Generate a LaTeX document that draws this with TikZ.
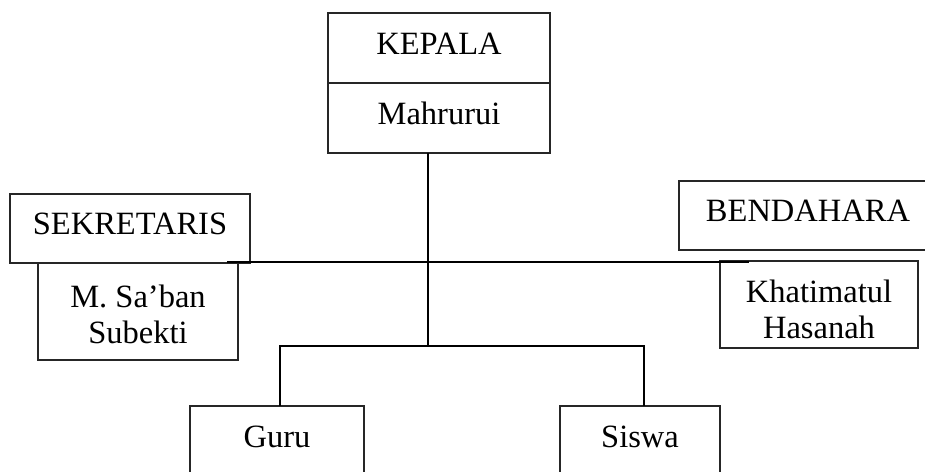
\documentclass[tikz,border=0pt]{standalone}
\usepackage{fontspec}
\setmainfont{Liberation Serif}
\tikzset{
  kotak/.style={draw=black!85, line width=1.1pt, fill=white, inner sep=0pt,
    font=\fontsize{32.5}{36}\selectfont, text height=22pt, text depth=10pt},
  kotakdua/.style={kotak, align=center, text depth=10pt},
  garis/.style={line width=2pt, line cap=rect}
}
\begin{document}
\begin{tikzpicture}[x=1pt,y=-1pt]
            \useasboundingbox (0,0) rectangle (925,471);
            \begin{scope}
                \node[kotak, minimum width=222pt, minimum height=70pt] (kepala) at (439,48) {KEPALA};
                \node[kotak, minimum width=222pt, minimum height=70pt] (mahrurui) at (439,118) {Mahrurui};
            \end{scope}
            \begin{scope}
                \node[kotak, minimum width=240pt, minimum height=69pt] (sekretaris) at (130,228.5) {SEKRETARIS};
                \node[kotakdua, minimum width=200pt, minimum height=97pt, text height=73pt] (saban) at (138,311.5) {M. Sa'ban\\Subekti};
            \end{scope}
            \begin{scope}
                \node[kotak, minimum width=258pt, minimum height=69pt] (bendahara) at (808,215.5) {BENDAHARA};
                \node[kotakdua, minimum width=198pt, minimum height=83pt, text height=77pt] (khatimatul) at (819,304.5) {Khatimatul\\Hasanah};
            \end{scope}
            \begin{scope}
                \node[kotak, minimum width=174pt, minimum height=70pt] (guru) at (277,441) {Guru};
                \node[kotak, minimum width=160pt, minimum height=70pt] (siswa) at (640,441) {Siswa};
            \end{scope}
            \coordinate (kiri) at ([xshift=-23pt,yshift=1.5pt]sekretaris.south east);
            \coordinate (kanan) at ([xshift=29pt]khatimatul.north west);
            \coordinate (cabang) at (428,346);
            \draw[garis] (kiri) -- (kiri -| kanan);
            \draw[garis] ([xshift=-11pt]mahrurui.south) -- (cabang);
            \draw[garis] ([xshift=3pt]guru.north) |- (cabang) -| ([xshift=4pt]siswa.north);
        \end{tikzpicture}
\end{document}
